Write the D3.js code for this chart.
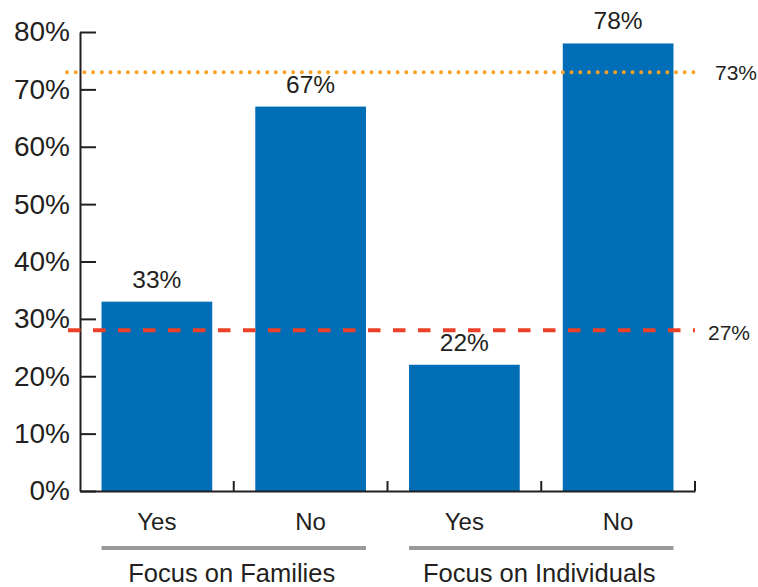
<!DOCTYPE html>
<html>
<head>
<meta charset="utf-8">
<script src="https://cdn.jsdelivr.net/npm/d3@7"></script>
<style>
  html, body { margin: 0; padding: 0; background: #fff; }
  svg { display: block; font-family: "Liberation Sans", Arial, Helvetica, sans-serif; }
</style>
</head>
<body>
<svg id="chart" width="758" height="587"></svg>
<script>
// chart values
const groups = ['Focus on Families', 'Focus on Individuals'];
const answers = ['Yes', 'No'];
const values = [33, 67, 22, 78];   // Families Yes/No, Individuals Yes/No
const yTicks = [0, 10, 20, 30, 40, 50, 60, 70, 80];
const refValues = [73, 28];
const refLabels = ['73%', '27%'];

const ink = '#231f20';
const barColor = '#006eb7';

const svg = d3.select('#chart');

// one row per bar
const rows = [];
groups.forEach((g, gi) => {
  answers.forEach((a, ai) => {
    rows.push({key: g + '|' + a, group: g, answer: a, value: values[gi * answers.length + ai]});
  });
});

const x = d3.scaleBand().domain(rows.map(d => d.key)).range([80, 695]).padding(0);
const y = d3.scaleLinear().domain([0, 80]).range([491, 32]);
const barW = x.bandwidth() * 0.72;

// bars
svg.append('g')
  .selectAll('rect')
  .data(rows)
  .join('rect')
    .attr('x', d => x(d.key) + (x.bandwidth() - barW) / 2)
    .attr('y', d => y(d.value))
    .attr('width', barW)
    .attr('height', d => y(0) - y(d.value))
    .attr('fill', barColor);

// value labels
svg.append('g')
  .selectAll('text')
  .data(rows)
  .join('text')
    .attr('x', d => x(d.key) + x.bandwidth() / 2)
    .attr('y', d => y(d.value) - 14)
    .attr('text-anchor', 'middle')
    .attr('font-size', '24.5px')
    .attr('fill', ink)
    .text(d => d.value + '%');

// y axis, ticks pointing into the plot
const yAxis = svg.append('g')
  .attr('transform', 'translate(80,0)')
  .call(d3.axisLeft(y).tickValues(yTicks).tickFormat(d => d + '%')
    .tickSizeInner(-16).tickSizeOuter(0).tickPadding(10));
yAxis.select('.domain').attr('stroke', ink).attr('stroke-width', 2);
yAxis.selectAll('.tick line').attr('stroke', ink).attr('stroke-width', 2);
yAxis.selectAll('.tick text')
  .attr('font-size', '28px')
  .attr('font-family', null)
  .attr('fill', ink);

// x axis, labels only
const xAxis = svg.append('g')
  .attr('transform', 'translate(0,491)')
  .call(d3.axisBottom(x).tickSize(0).tickPadding(22).tickFormat(k => k.split('|')[1]));
xAxis.select('.domain').attr('stroke', ink).attr('stroke-width', 2);
xAxis.selectAll('.tick text')
  .attr('font-size', '24px')
  .attr('font-family', null)
  .attr('fill', ink);

// tick marks at the category boundaries
svg.append('g')
  .selectAll('line')
  .data(rows)
  .join('line')
    .attr('x1', d => x(d.key) + x.bandwidth())
    .attr('x2', d => x(d.key) + x.bandwidth())
    .attr('y1', y(0))
    .attr('y2', y(0) - 10)
    .attr('stroke', ink)
    .attr('stroke-width', 2);

// group underline + label
const groupRows = groups.map(g => rows.filter(d => d.group === g));
const groupG = svg.append('g')
  .selectAll('g')
  .data(groupRows)
  .join('g');
groupG.append('line')
  .attr('x1', d => x(d[0].key) + (x.bandwidth() - barW) / 2)
  .attr('x2', d => x(d[d.length - 1].key) + (x.bandwidth() + barW) / 2)
  .attr('y1', 548)
  .attr('y2', 548)
  .attr('stroke', '#9a9a9a')
  .attr('stroke-width', 4);
groupG.append('text')
  .attr('x', d => (x(d[0].key) + x(d[d.length - 1].key) + x.bandwidth()) / 2 - 2)
  .attr('y', 582)
  .attr('text-anchor', 'middle')
  .attr('font-size', '25.5px')
  .attr('fill', ink)
  .text(d => d[0].group);

// reference lines
svg.append('line')
  .attr('x1', 67).attr('x2', 702)
  .attr('y1', y(refValues[0])).attr('y2', y(refValues[0]))
  .attr('stroke', '#f7a126')
  .attr('stroke-width', 4)
  .attr('stroke-linecap', 'round')
  .attr('stroke-dasharray', '0,8.7');
svg.append('text')
  .attr('x', 715).attr('y', y(refValues[0]))
  .attr('dy', '0.35em')
  .attr('font-size', '21px')
  .attr('fill', ink)
  .text(refLabels[0]);

svg.append('line')
  .attr('x1', 68).attr('x2', 695)
  .attr('y1', y(refValues[1])).attr('y2', y(refValues[1]))
  .attr('stroke', '#ec4028')
  .attr('stroke-width', 4)
  .attr('stroke-dasharray', '12.5,12.5');
svg.append('text')
  .attr('x', 708).attr('y', y(refValues[1]) + 2)
  .attr('dy', '0.35em')
  .attr('font-size', '21px')
  .attr('fill', ink)
  .text(refLabels[1]);
</script>
</body>
</html>
